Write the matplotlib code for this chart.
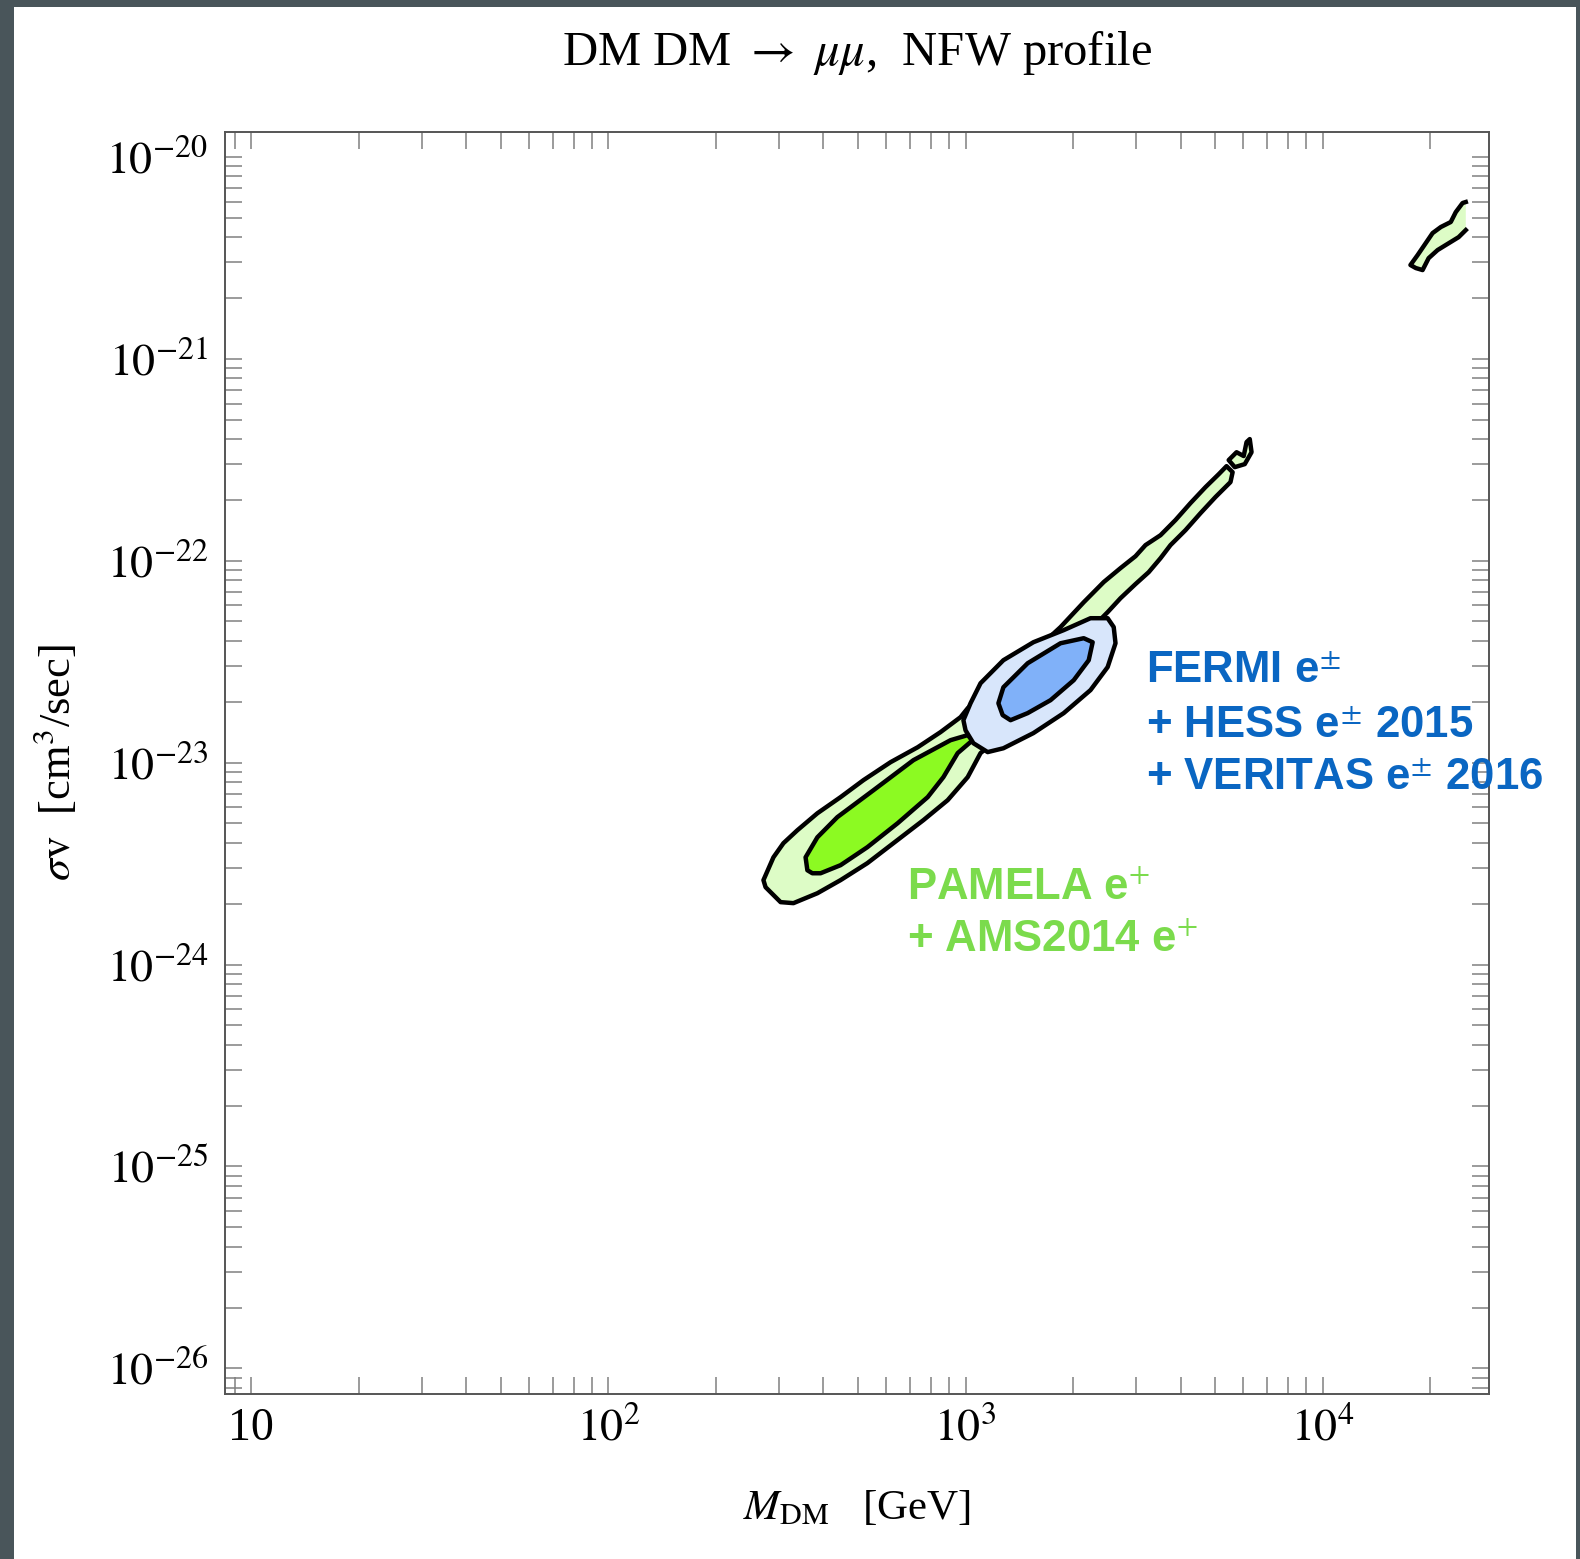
import matplotlib
matplotlib.use("Agg")
import matplotlib.pyplot as plt
import numpy as np
from matplotlib.patches import Rectangle
from matplotlib.ticker import LogLocator, FuncFormatter, NullFormatter

# contour outlines, log10(M_DM/GeV) and log10(sigma v / cm^3 s^-1)
pamela_2s_logm = [2.434, 2.462, 2.490, 2.529, 2.585, 2.650, 2.714, 2.790, 2.866, 2.930,
                  2.986, 3.006, 3.098, 3.196, 3.266, 3.331, 3.387, 3.434, 3.476, 3.504,
                  3.546, 3.588, 3.630, 3.672, 3.709, 3.731, 3.748, 3.742, 3.700, 3.658,
                  3.616, 3.574, 3.546, 3.513, 3.476, 3.434, 3.398, 3.370, 3.266, 3.154,
                  3.042, 3.006, 2.950, 2.882, 2.798, 2.725, 2.650, 2.585, 2.518, 2.482,
                  2.440]
pamela_2s_logsv = [-23.582, -23.469, -23.399, -23.335, -23.251, -23.171, -23.087, -22.998,
                   -22.924, -22.849, -22.775, -22.731, -22.592, -22.443, -22.329, -22.206,
                   -22.106, -22.037, -21.978, -21.923, -21.874, -21.799, -21.715, -21.636,
                   -21.572, -21.532, -21.562, -21.611, -21.685, -21.765, -21.849, -21.923,
                   -21.988, -22.057, -22.116, -22.186, -22.255, -22.305, -22.542, -22.790,
                   -22.953, -23.072, -23.186, -23.285, -23.399, -23.498, -23.582, -23.647,
                   -23.696, -23.691, -23.617]

pamela_hook_logm = [3.737, 3.759, 3.779, 3.787, 3.796, 3.801, 3.782, 3.754]
pamela_hook_logsv = [-21.502, -21.463, -21.482, -21.413, -21.398, -21.463, -21.522, -21.537]

pamela_high_logm = [4.246, 4.266, 4.308, 4.331, 4.359, 4.373, 4.392, 4.401,
                    4.401, 4.381, 4.345, 4.322, 4.297, 4.280, 4.261]
pamela_high_logsv = [-20.536, -20.487, -20.378, -20.348, -20.323, -20.274, -20.229, -20.224,
                     -20.363, -20.398, -20.437, -20.462, -20.502, -20.561, -20.551]

pamela_1s_logm = [2.557, 2.552, 2.585, 2.641, 2.742, 2.854, 2.958, 3.006, 3.020,
                  2.978, 2.938, 2.894, 2.810, 2.725, 2.650, 2.594, 2.571]
pamela_1s_logsv = [-23.533, -23.469, -23.370, -23.270, -23.137, -22.988, -22.889, -22.864,
                   -22.889, -22.953, -23.072, -23.171, -23.300, -23.419, -23.508, -23.548,
                   -23.548]

fermi_2s_logm = [2.994, 3.014, 3.042, 3.106, 3.190, 3.275, 3.350, 3.398, 3.415,
                 3.420, 3.398, 3.350, 3.275, 3.190, 3.106, 3.062, 3.022, 3.000]
fermi_2s_logsv = [-22.790, -22.706, -22.607, -22.493, -22.404, -22.344, -22.285, -22.285,
                  -22.329, -22.409, -22.527, -22.641, -22.755, -22.854, -22.929, -22.948,
                  -22.904, -22.840]

fermi_1s_logm = [3.092, 3.106, 3.174, 3.266, 3.331, 3.356, 3.345, 3.303, 3.238,
                 3.174, 3.126, 3.104]
fermi_1s_logsv = [-22.706, -22.627, -22.508, -22.409, -22.384, -22.404, -22.493, -22.592,
                  -22.691, -22.755, -22.790, -22.765]

x_ticks = [10, 1e2, 1e3, 1e4]
x_ticklabels = ["10", r"$10^{2}$", r"$10^{3}$", r"$10^{4}$"]
y_ticks = [1e-26, 1e-25, 1e-24, 1e-23, 1e-22, 1e-21, 1e-20]

fermi_lines = [r"FERMI e$^{\pm}$", r"+ HESS e$^{\pm}$ 2015", r"+ VERITAS e$^{\pm}$ 2016"]
pamela_lines = [r"PAMELA e$^{+}$", r"+ AMS2014 e$^{+}$"]

plt.rcParams["font.family"] = ["Liberation Serif", "DejaVu Serif"]
plt.rcParams["mathtext.fontset"] = "stix"

fig = plt.figure(figsize=(15.8, 15.59), dpi=100)
fig.patch.set_facecolor("#49555a")
fig.patches.append(Rectangle((14 / 1580, 0), 1562 / 1580, 1552 / 1559,
                             transform=fig.transFigure, facecolor="white",
                             edgecolor="none", zorder=-10))

ax = fig.add_axes([0.1424, 0.1058, 0.8000, 0.8097])
ax.set_xscale("log")
ax.set_yscale("log")
ax.set_facecolor("white")

edge = dict(edgecolor="black", linewidth=3.2, joinstyle="round")
ax.fill(10 ** np.array(pamela_2s_logm), 10 ** np.array(pamela_2s_logsv),
        facecolor="#ddfcc6", zorder=2, **edge)
ax.fill(10 ** np.array(pamela_hook_logm), 10 ** np.array(pamela_hook_logsv),
        facecolor="#ddfcc6", zorder=2, **edge)
ax.fill(10 ** np.array(pamela_1s_logm), 10 ** np.array(pamela_1s_logsv),
        facecolor="#8cfa22", zorder=3, **edge)
ax.fill(10 ** np.array(fermi_2s_logm), 10 ** np.array(fermi_2s_logsv),
        facecolor="#d8e6fb", zorder=4, **edge)
ax.fill(10 ** np.array(fermi_1s_logm), 10 ** np.array(fermi_1s_logsv),
        facecolor="#80b1f9", zorder=5, **edge)

# high-mass island is cut by the scan edge, so no outline on its right side
hm = 10 ** np.array(pamela_high_logm)
hs = 10 ** np.array(pamela_high_logsv)
ax.fill(hm, hs, facecolor="#ddfcc6", edgecolor="none", zorder=2)
ax.plot(np.r_[hm[8:], hm[:8]], np.r_[hs[8:], hs[:8]], color="black",
        linewidth=3.2, solid_joinstyle="round", zorder=2)

ax.set_xlim(10 ** 0.926, 10 ** 4.466)
ax.set_ylim(10 ** -26.127, 10 ** -19.876)

ax.xaxis.set_major_locator(LogLocator(base=10, subs=[1.0]))
ax.xaxis.set_minor_locator(LogLocator(base=10, subs=np.arange(2, 10), numticks=20))
ax.yaxis.set_major_locator(LogLocator(base=10, subs=[1.0]))
ax.yaxis.set_minor_locator(LogLocator(base=10, subs=np.arange(2, 10), numticks=20))
ax.set_xticks(x_ticks)
ax.set_xticklabels(x_ticklabels)
ax.set_yticks(y_ticks)
ax.yaxis.set_major_formatter(FuncFormatter(lambda v, p: r"$10^{%d}$" % round(np.log10(v))))
ax.xaxis.set_minor_formatter(NullFormatter())
ax.yaxis.set_minor_formatter(NullFormatter())

ax.tick_params(which="both", direction="in", top=True, right=True, length=12,
               width=1.1, color="#808080", labelsize=33)
ax.tick_params(axis="y", pad=12)
ax.tick_params(axis="x", pad=10)
for s in ax.spines.values():
    s.set_color("#555555")
    s.set_linewidth(1.4)

ax.set_title(r"DM DM $\rightarrow$ $\mu\mu$,  NFW profile", fontsize=35, pad=48)
ax.set_xlabel(r"$M_{\rm DM}$   [GeV]", fontsize=31, labelpad=28)
ax.set_ylabel(r"$\sigma{\rm v}$  [cm$^3$/sec]", fontsize=32, labelpad=20)

sans = ["Liberation Sans", "DejaVu Sans"]
for txt, yy in zip(fermi_lines, [0.5633, 0.5197, 0.4785]):
    ax.text(0.7286, yy, txt, transform=ax.transAxes, fontsize=31.5, fontweight="bold",
            family=sans, color="#0a66c2", va="baseline", ha="left", zorder=6)
for txt, yy in zip(pamela_lines, [0.3914, 0.3502]):
    ax.text(0.5396, yy, txt, transform=ax.transAxes, fontsize=31.5, fontweight="bold",
            family=sans, color="#7bdb4c", va="baseline", ha="left", zorder=6)

fig.savefig("out.png", dpi=100, facecolor=fig.get_facecolor())
